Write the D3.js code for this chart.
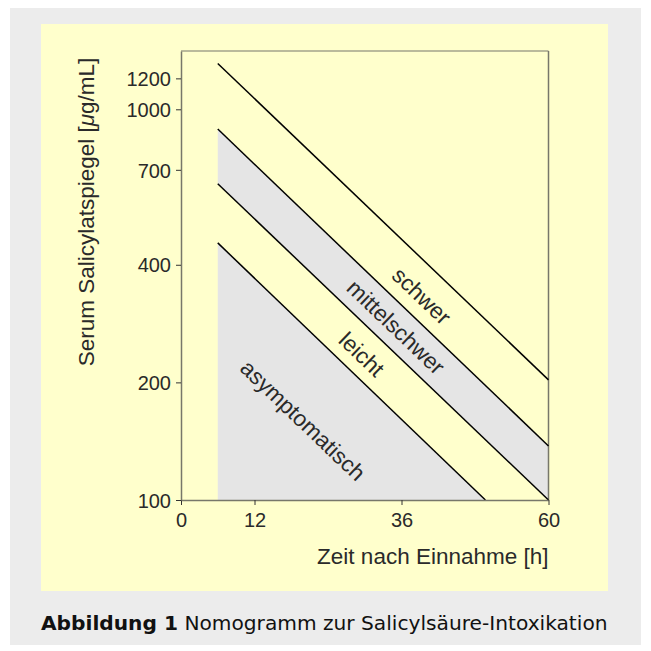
<!DOCTYPE html>
<html><head><meta charset="utf-8">
<script src="https://cdn.jsdelivr.net/npm/d3@7"></script>
<style>
html,body{margin:0;padding:0;background:#fff;}
svg{display:block;}
</style></head>
<body>
<svg id="chart" width="651" height="651"></svg>
<script>
// ---- data ----
const xTicks = [0, 12, 36, 60];
const yTicks = [100, 200, 400, 700, 1000, 1200];
const lineNames = ["schwer", "mittelschwer", "leicht", "asymptomatisch"];
const lineHours = [[6, 60], [6, 60], [6, 60], [6, 49.7]];
const lineValues = [[1310, 203], [890, 137.5], [645, 100], [455, 100]];
const labelTexts = ["schwer", "mittelschwer", "leicht", "asymptomatisch"];
const labelHours = [39.3, 35.1, 29.5, 19.9];
const labelValues = [333, 277, 236, 160];
const xTitle = "Zeit nach Einnahme [h]";
const captionBold = "Abbildung 1";
const captionText = " Nomogramm zur Salicylsäure-Intoxikation";

const svg = d3.select("#chart");
svg.append("rect").attr("x",10).attr("y",8).attr("width",631).attr("height",637).attr("fill","#ececec");
svg.append("rect").attr("x",41).attr("y",24).attr("width",567).attr("height",567).attr("fill","#ffffcc");

const x = d3.scaleLinear().domain([0,60]).range([181,548.5]);
const y = d3.scaleLog().domain([100,1410]).range([500,51]);

const pts = lineNames.map((n,i)=>lineHours[i].map((h,j)=>[h, lineValues[i][j]]));
const line = d3.line().x(d=>x(d[0])).y(d=>y(d[1]));

// shaded band between mittelschwer and leicht
const band = pts[1].concat(pts[2].slice().reverse());
svg.append("path").attr("d", line(band) + "Z").attr("fill","#e5e5e5");
// shaded asymptomatisch region
const asym = pts[3].concat([[pts[3][0][0], 100]]);
svg.append("path").attr("d", line(asym) + "Z").attr("fill","#e5e5e5");

// frame
const axisCol = "#77776a";
svg.append("line").attr("x1",x(0)).attr("x2",x(60)).attr("y1",y(1410)).attr("y2",y(1410)).attr("stroke",axisCol).attr("stroke-width",1.2);
svg.append("line").attr("x1",x(60)).attr("x2",x(60)).attr("y1",y(1410)).attr("y2",y(100)).attr("stroke",axisCol).attr("stroke-width",1.5);

// lines
pts.forEach(p=>{
  svg.append("path").attr("d", line(p)).attr("fill","none").attr("stroke","#000").attr("stroke-width",1.5);
});

// axes
const font = "'Liberation Sans', Arial, Helvetica, sans-serif";
const txtCol = "#2a2a2a";
const xAxis = svg.append("g").attr("transform",`translate(0,${y(100)})`)
  .call(d3.axisBottom(x).tickValues(xTicks).tickSize(5).tickSizeOuter(0).tickFormat(d3.format("d")));
const yAxis = svg.append("g").attr("transform",`translate(${x(0)},0)`)
  .call(d3.axisLeft(y).tickValues(yTicks).tickSize(5).tickSizeOuter(0).tickFormat(d3.format("d")));
[xAxis,yAxis].forEach(g=>{
  g.select(".domain").attr("stroke",axisCol).attr("stroke-width",1.5);
  g.selectAll(".tick line").attr("stroke","#333");
  g.selectAll("text").attr("font-family",font).attr("font-size",20).attr("fill",txtCol);
});
xAxis.selectAll("text").attr("y",0).attr("dy",27);
yAxis.selectAll("text").attr("x",-10).attr("dy","0.36em");

// axis titles
svg.append("text").attr("x",x(60)).attr("y",564).attr("text-anchor","end")
  .attr("font-family",font).attr("font-size",22.5).attr("fill",txtCol).text(xTitle);
const yt = svg.append("text").attr("transform","translate(94,212) rotate(-90)").attr("text-anchor","middle")
  .attr("font-family",font).attr("font-size",22.5).attr("fill",txtCol);
yt.append("tspan").text("Serum Salicylatspiegel [");
yt.append("tspan").attr("font-style","italic").text("\u03bc");
yt.append("tspan").text("g/mL]");

// line labels
const ang = Math.atan2(y(lineValues[0][1]) - y(lineValues[0][0]), x(lineHours[0][1]) - x(lineHours[0][0])) * 180 / Math.PI;
labelTexts.forEach((t,i)=>{
  svg.append("text").attr("transform",`translate(${x(labelHours[i])},${y(labelValues[i])}) rotate(${ang})`)
    .attr("text-anchor","middle").attr("dy","0.35em")
    .attr("font-family",font).attr("font-size",22.5).attr("fill",txtCol).text(t);
});

// caption
const cap = svg.append("text").attr("x",41).attr("y",630).attr("font-family","'DejaVu Sans', 'Noto Sans', sans-serif").attr("font-size",18).attr("fill","#111");
cap.append("tspan").attr("font-weight","bold").text(captionBold);
cap.append("tspan").text(captionText);
const w = cap.node().getComputedTextLength();
cap.attr("font-size", 18 * 567 / w);
</script>
</body></html>
